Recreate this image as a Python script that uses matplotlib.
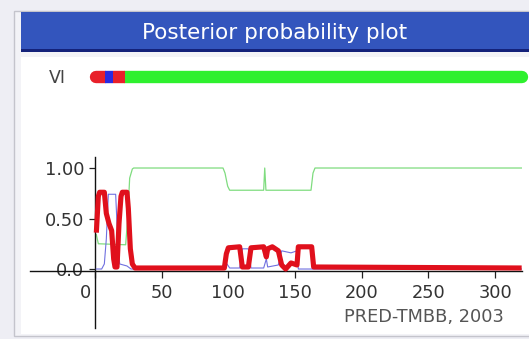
import matplotlib
matplotlib.use("Agg")
import matplotlib.pyplot as plt
from matplotlib.patches import Rectangle
from matplotlib.transforms import ScaledTranslation

plt.rcParams['font.family'] = ['DejaVu Sans']

# ---------------- data ----------------
title = "Posterior probability plot"
row_label = "VI"
credit = "PRED-TMBB, 2003"

# prediction bar segments (residue start, end, colour)
vi_start = [1, 7.5, 13.5, 22.5]
vi_end = [7.5, 13.5, 22.5, 320]
vi_colors = ['#e8202a', '#2a2ae0', '#e8202a', '#2ef02e']

# red (thick) posterior curve
red_x = [1, 2.5, 3.5, 7, 8.5, 10.5, 12.5, 14, 15, 16.5, 18, 19.5, 20.5, 24, 25, 26.5, 28, 30,
         97, 98.5, 100, 108.5, 110.5, 115, 117, 126.5, 128.5, 129.5, 133, 137.5, 140, 143,
         147, 151.5, 152.5, 162.5, 164, 320]
red_y = [0.36, 0.72, 0.76, 0.76, 0.55, 0.45, 0.38, 0.10, 0.02, 0.02, 0.45, 0.72, 0.76, 0.76, 0.60,
         0.20, 0.05, 0.01, 0.01, 0.15, 0.21, 0.22, 0.02, 0.02, 0.21, 0.22, 0.12, 0.20, 0.22, 0.18,
         0.04, 0.00, 0.06, 0.04, 0.22, 0.22, 0.02, 0.01]

# blue (thin) posterior curve
blue_x = [1, 5, 7, 8.5, 10, 15.5, 17, 18.5, 24, 27, 97, 99, 101, 108.5, 110.5, 115, 117, 126.5,
          128.5, 129.5, 137.5, 140, 147, 151.5, 152.5, 320]
blue_y = [0.0, 0.0, 0.05, 0.30, 0.74, 0.74, 0.30, 0.05, 0.03, 0.0, 0.0, 0.05, 0.01, 0.01, 0.20,
          0.20, 0.01, 0.01, 0.10, 0.02, 0.04, 0.18, 0.16, 0.18, 0.0, 0.0]

# green (thin) posterior curve
green_x = [1, 2.5, 23, 24.5, 26, 28, 29, 96, 97.5, 99.5, 101, 126.5, 127.3, 128.2, 162, 163.5,
           165, 320]
green_y = [0.34, 0.25, 0.24, 0.50, 0.90, 0.99, 1.0, 1.0, 0.95, 0.82, 0.78, 0.78, 1.0, 0.78, 0.78,
           0.95, 1.0, 1.0]

x_ticks = [0, 50, 100, 150, 200, 250, 300]
x_ticklabels = ['0', '50', '100', '150', '200', '250', '300']
y_ticks = [0.0, 0.5, 1.0]
y_ticklabels = ['0.0', '0.50', '1.00']

# ---------------- layout helpers ----------------
W, H = 529, 339
fig = plt.figure(figsize=(W / 100, H / 100), dpi=100)
fig.patch.set_facecolor('#eeeef4')


def frect(x0, y0, x1, y1):
    """pixel box (top-left origin) -> figure fraction rect"""
    return [x0 / W, 1 - y1 / H, (x1 - x0) / W, (y1 - y0) / H]


def fpt(x, y):
    return x / W, 1 - y / H


def add_rect(x0, y0, x1, y1, fc, ec='none', lw=0):
    l, b, w, h = frect(x0, y0, x1, y1)
    fig.patches.append(Rectangle((l, b), w, h, transform=fig.transFigure,
                                 facecolor=fc, edgecolor=ec, linewidth=lw, zorder=-10))


# frame / panel
add_rect(13.5, 11, 540, 336, '#f3f3f7', ec='#c4c4cc', lw=1.0)
add_rect(21, 57, 540, 333.5, 'white')
add_rect(21, 12.5, 540, 52, '#3355bd')
add_rect(21, 49.5, 540, 52, '#14227a')
tx, ty = fpt(275, 33)
fig.text(tx, ty, title, color='white', fontsize=15.5, ha='center', va='center')

# ---------------- main axes ----------------
x_left, x_right = -48.75, 320.25
ax = fig.add_axes(frect(30, 157, 522, 328))
ax.set_zorder(5)
ax.set_xlim(x_left, x_right)
ax.set_ylim(-0.584, 1.109)
ax.patch.set_visible(False)

ax.plot(green_x, green_y, color='#7fdc7f', lw=0.9, zorder=2)
ax.plot(blue_x, blue_y, color='#7070e0', lw=0.8, zorder=3)
ax.plot(red_x, red_y, color='#e0101c', lw=3.7, zorder=4,
        solid_joinstyle='round', solid_capstyle='butt')

for s in ['top', 'right']:
    ax.spines[s].set_visible(False)
ax.spines['left'].set_position(('data', 0))
ax.spines['bottom'].set_position(('data', -0.02))
for s in ['left', 'bottom']:
    ax.spines[s].set_color('#111111')
    ax.spines[s].set_linewidth(1.0)

ax.set_xticks(x_ticks)
ax.set_xticklabels(x_ticklabels)
ax.set_yticks(y_ticks)
ax.set_yticklabels(y_ticklabels)
ax.tick_params(axis='x', direction='out', length=5, width=0.9, pad=4.5,
               labelsize=12.8, colors='#222222', labelcolor='#333333')
ax.tick_params(axis='y', direction='out', length=4.3, width=0.9, pad=3.5,
               labelsize=12.8, colors='#222222', labelcolor='#333333')
zero_lbl = ax.get_xticklabels()[0]
zero_lbl.set_horizontalalignment('right')
zero_lbl.set_transform(zero_lbl.get_transform() + ScaledTranslation(-4 / 100, 0, fig.dpi_scale_trans))

cx, cy = fpt(424, 317)
fig.text(cx, cy, credit, color='#555555', fontsize=12.8, ha='center', va='center')

# ---------------- prediction bar ----------------
axv = fig.add_axes(frect(30, 65, 522, 89))
axv.set_zorder(5)
axv.set_xlim(x_left, x_right)
axv.set_ylim(0, 1)
axv.axis('off')
bar_lw = 8.9
order = [0, 3, 1, 2]
for i in order:
    cap = 'round' if i in (0, len(vi_start) - 1) else 'butt'
    axv.plot([vi_start[i], vi_end[i]], [0.5, 0.5], color=vi_colors[i], lw=bar_lw,
             solid_capstyle=cap, clip_on=False)
vx, vy = fpt(57.5, 78)
fig.text(vx, vy, row_label, color='#444444', fontsize=12.5, ha='center', va='center')

fig.savefig('out.png', dpi=100, facecolor=fig.get_facecolor())
